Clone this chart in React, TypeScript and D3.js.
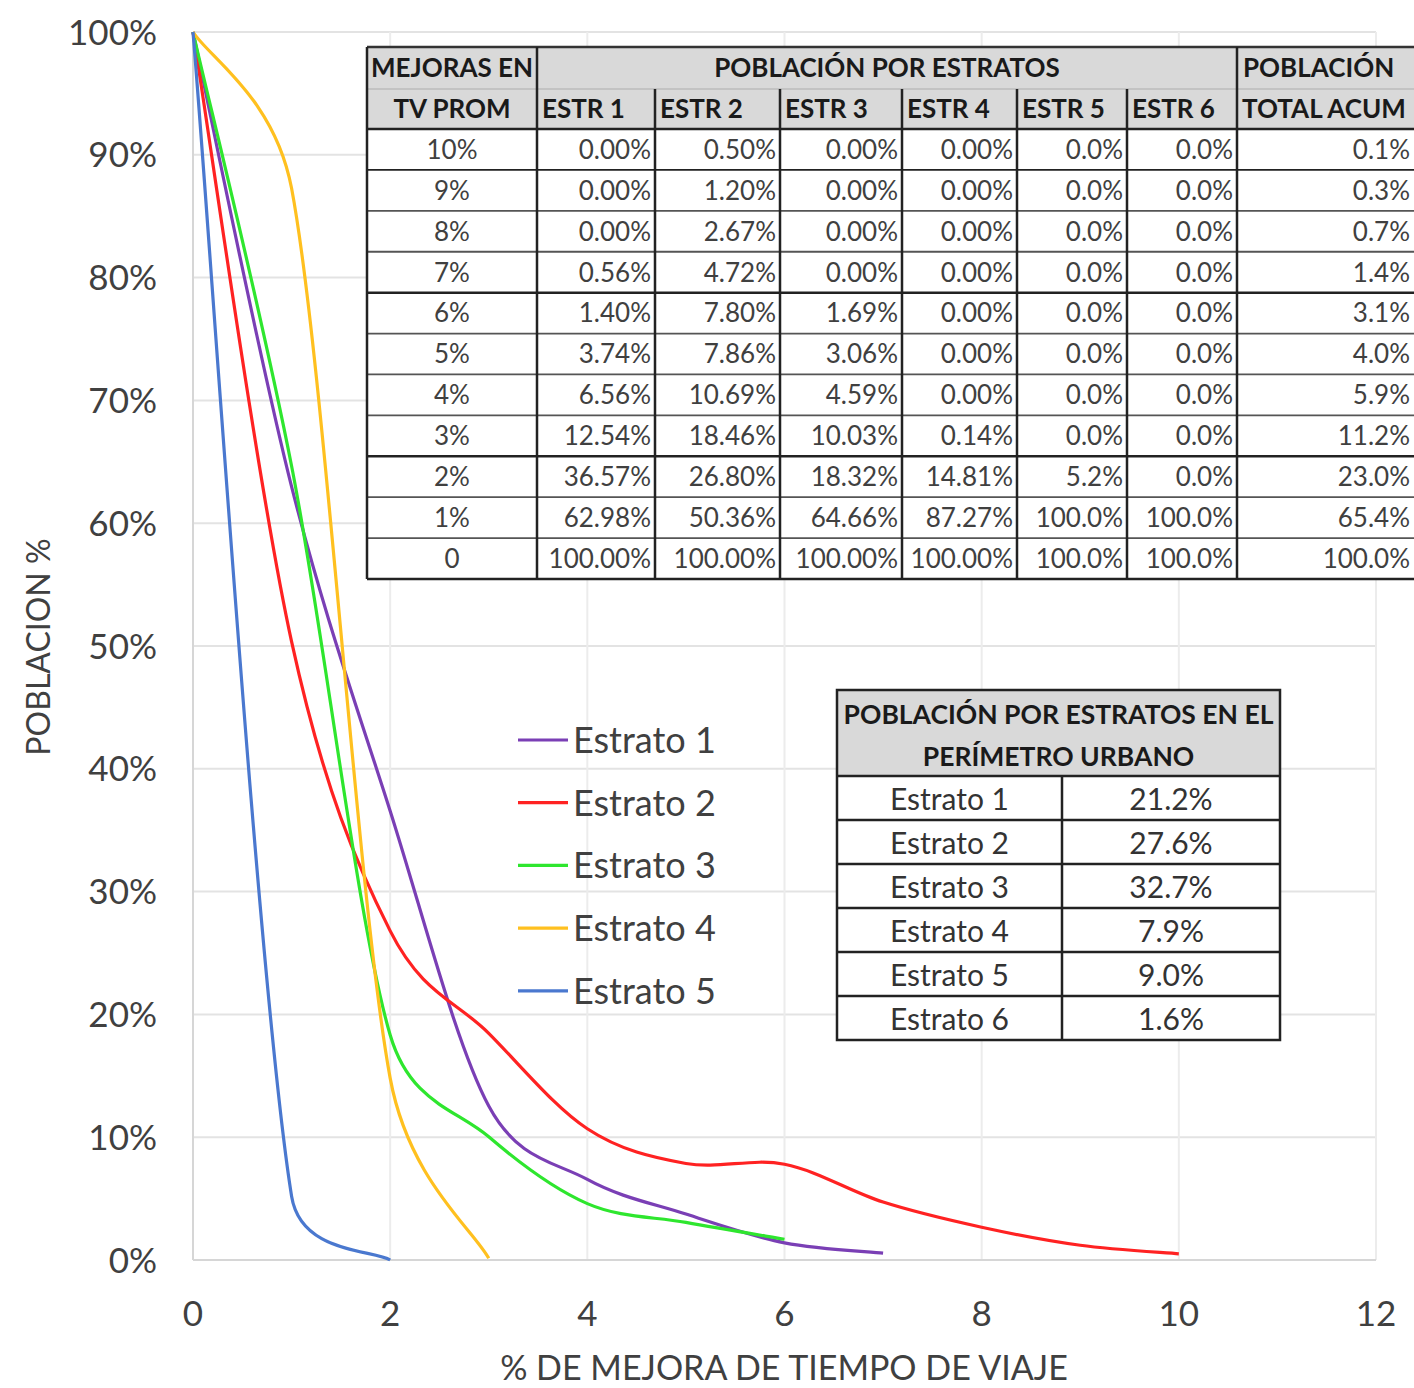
import React from "react";
import * as d3 from "d3";

const W = 1414;
const H = 1388;
const FONT = "Lato, 'Open Sans', sans-serif";

// ---- line series (x = 0,1,2,... % de mejora) ----
const seriesNames = ["Estrato 1", "Estrato 2", "Estrato 3", "Estrato 4", "Estrato 5"];
const seriesColors = ["#7a3fb5", "#ff2222", "#2ee62e", "#ffc01f", "#4a78cf"];
const estrato1 = [1, 0.6298, 0.3657, 0.1254, 0.0656, 0.0374, 0.014, 0.0056];
const estrato2 = [1, 0.5036, 0.268, 0.1846, 0.1069, 0.0786, 0.078, 0.0472, 0.0267, 0.012, 0.005];
const estrato3 = [1, 0.6466, 0.1832, 0.1003, 0.0459, 0.0306, 0.0169];
const estrato4 = [1, 0.8727, 0.1481, 0.0014];
const estrato5 = [1, 0.052, 0];
const seriesValues = [estrato1, estrato2, estrato3, estrato4, estrato5];

const xTicks = [0, 2, 4, 6, 8, 10, 12];
const yTicks = [0, 0.1, 0.2, 0.3, 0.4, 0.5, 0.6, 0.7, 0.8, 0.9, 1];

// ---- table 1 ----
const tvProm = ["10%", "9%", "8%", "7%", "6%", "5%", "4%", "3%", "2%", "1%", "0"];
const estr1Col = ["0.00%", "0.00%", "0.00%", "0.56%", "1.40%", "3.74%", "6.56%", "12.54%", "36.57%", "62.98%", "100.00%"];
const estr2Col = ["0.50%", "1.20%", "2.67%", "4.72%", "7.80%", "7.86%", "10.69%", "18.46%", "26.80%", "50.36%", "100.00%"];
const estr3Col = ["0.00%", "0.00%", "0.00%", "0.00%", "1.69%", "3.06%", "4.59%", "10.03%", "18.32%", "64.66%", "100.00%"];
const estr4Col = ["0.00%", "0.00%", "0.00%", "0.00%", "0.00%", "0.00%", "0.00%", "0.14%", "14.81%", "87.27%", "100.00%"];
const estr5Col = ["0.0%", "0.0%", "0.0%", "0.0%", "0.0%", "0.0%", "0.0%", "0.0%", "5.2%", "100.0%", "100.0%"];
const estr6Col = ["0.0%", "0.0%", "0.0%", "0.0%", "0.0%", "0.0%", "0.0%", "0.0%", "0.0%", "100.0%", "100.0%"];
const totalCol = ["0.1%", "0.3%", "0.7%", "1.4%", "3.1%", "4.0%", "5.9%", "11.2%", "23.0%", "65.4%", "100.0%"];
const subHeaders = ["TV PROM", "ESTR 1", "ESTR 2", "ESTR 3", "ESTR 4", "ESTR 5", "ESTR 6", "TOTAL ACUM"];

// ---- table 2 ----
const estratoLabels = ["Estrato 1", "Estrato 2", "Estrato 3", "Estrato 4", "Estrato 5", "Estrato 6"];
const estratoShares = ["21.2%", "27.6%", "32.7%", "7.9%", "9.0%", "1.6%"];

// Excel-like smoothed line: Bezier with 1/6 tangents, arm clamped to half of segment length
function smoothPath(pts: [number, number][]): string {
  const p = d3.path();
  const n = pts.length;
  if (!n) return "";
  p.moveTo(pts[0][0], pts[0][1]);
  const dist = (a: [number, number], b: [number, number]) => Math.hypot(b[0] - a[0], b[1] - a[1]);
  for (let i = 0; i < n - 1; i++) {
    const p0 = pts[Math.max(0, i - 1)];
    const p1 = pts[i];
    const p2 = pts[i + 1];
    const p3 = pts[Math.min(n - 1, i + 2)];
    const d12 = dist(p1, p2);
    let t1x = (p2[0] - p0[0]) / 6;
    let t1y = (p2[1] - p0[1]) / 6;
    let l1 = Math.hypot(t1x, t1y);
    if (l1 > d12 / 2 && l1 > 0) {
      const s = d12 / 2 / l1;
      t1x *= s;
      t1y *= s;
    }
    let t2x = (p3[0] - p1[0]) / 6;
    let t2y = (p3[1] - p1[1]) / 6;
    let l2 = Math.hypot(t2x, t2y);
    if (l2 > d12 / 2 && l2 > 0) {
      const s = d12 / 2 / l2;
      t2x *= s;
      t2y *= s;
    }
    p.bezierCurveTo(p1[0] + t1x, p1[1] + t1y, p2[0] - t2x, p2[1] - t2y, p2[0], p2[1]);
  }
  return p.toString();
}

export default function App() {
  const x = d3.scaleLinear().domain([0, 12]).range([193, 1376]);
  const y = d3.scaleLinear().domain([0, 1]).range([1260, 32]);

  // table 1 geometry
  const colX = [367, 537, 655, 780, 902, 1017, 1127, 1237, 1440];
  const t1Top = 47;
  const t1H1 = 89;
  const t1H2 = 129;
  const t1Bottom = 579;
  const rowH = (t1Bottom - t1H2) / tvProm.length;
  const dataCols = [estr1Col, estr2Col, estr3Col, estr4Col, estr5Col, estr6Col, totalCol];
  const thickRows = [0, 4, 8];

  // table 2 geometry
  const t2L = 837, t2R = 1280, t2Top = 690, t2HB = 776, t2Bottom = 1040, t2Mid = 1062;
  const r2H = (t2Bottom - t2HB) / estratoLabels.length;

  const txtSize = 26;

  return (
    <div style={{ position: "absolute", left: 0, top: 0 }}>
      <svg width={W} height={H} style={{ display: "block", background: "#fff" }}>
        {/* gridlines */}
        {yTicks.map((t) => (
          <line key={"gy" + t} x1={x(0)} x2={x(12)} y1={y(t)} y2={y(t)} stroke="#e3e3e3" strokeWidth={2} />
        ))}
        {xTicks.map((t) => (
          <line key={"gx" + t} x1={x(t)} x2={x(t)} y1={y(0)} y2={y(1)} stroke="#ececec" strokeWidth={2} />
        ))}
        <line x1={x(0)} x2={x(0)} y1={y(0)} y2={y(1)} stroke="#d6d6d6" strokeWidth={2} />
        <line x1={x(0)} x2={x(12)} y1={y(0)} y2={y(0)} stroke="#d6d6d6" strokeWidth={2} />

        {/* y tick labels */}
        {yTicks.map((t) => (
          <text key={"ly" + t} x={157} y={y(t)} dy="0.36em" textAnchor="end" fontFamily={FONT} fontSize={35} fill="#404040">
            {d3.format(".0%")(t)}
          </text>
        ))}
        {/* x tick labels */}
        {xTicks.map((t) => (
          <text key={"lx" + t} x={x(t)} y={1326} textAnchor="middle" fontFamily={FONT} fontSize={35} fill="#404040">
            {t}
          </text>
        ))}
        <text x={784} y={1380} textAnchor="middle" fontFamily={FONT} fontSize={34} fill="#404040">
          % DE MEJORA DE TIEMPO DE VIAJE
        </text>
        <text transform="translate(50,647) rotate(-90)" textAnchor="middle" fontFamily={FONT} fontSize={32} fill="#404040">
          POBLACION %
        </text>

        {/* lines */}
        {seriesValues.map((vals, i) => (
          <path
            key={"s" + i}
            d={smoothPath(vals.map((v, k) => [x(k), y(v)] as [number, number]))}
            fill="none"
            stroke={seriesColors[i]}
            strokeWidth={3.2}
            strokeLinejoin="round"
          />
        ))}

        {/* legend */}
        {seriesNames.map((n, i) => {
          const ly = 740 + i * 62.7;
          return (
            <g key={"lg" + i}>
              <line x1={518} x2={568} y1={ly} y2={ly} stroke={seriesColors[i]} strokeWidth={3.2} />
              <text x={573} y={ly} dy="0.36em" fontFamily={FONT} fontSize={36} fill="#404040">
                {n}
              </text>
            </g>
          );
        })}

        {/* table 1 */}
        <g fontFamily={FONT}>
          <rect x={colX[0]} y={t1Top} width={colX[8] - colX[0]} height={t1H2 - t1Top} fill="#d9d9d9" />
          <rect x={colX[0]} y={t1H2} width={colX[8] - colX[0]} height={t1Bottom - t1H2} fill="#fff" />
          {/* header texts */}
          <text x={colX[0] + 4} y={(t1Top + t1H1) / 2} dy="0.36em" fontSize={txtSize} fontWeight="bold" fill="#1a1a1a">
            MEJORAS EN
          </text>
          <text x={(colX[1] + colX[7]) / 2} y={(t1Top + t1H1) / 2} dy="0.36em" textAnchor="middle" fontSize={txtSize} fontWeight="bold" fill="#1a1a1a">
            POBLACIÓN POR ESTRATOS
          </text>
          <text x={colX[7] + 6} y={(t1Top + t1H1) / 2} dy="0.36em" fontSize={txtSize} fontWeight="bold" fill="#1a1a1a">
            POBLACIÓN
          </text>
          {subHeaders.map((h, i) => (
            <text
              key={"sh" + i}
              x={i === 0 ? (colX[0] + colX[1]) / 2 : colX[i] + 5}
              y={(t1H1 + t1H2) / 2}
              dy="0.36em"
              textAnchor={i === 0 ? "middle" : "start"}
              fontSize={txtSize}
              fontWeight="bold"
              fill="#1a1a1a"
            >
              {h}
            </text>
          ))}
          {/* data */}
          {tvProm.map((r, ri) => {
            const cy = t1H2 + rowH * (ri + 0.5);
            return (
              <g key={"r" + ri}>
                <text x={(colX[0] + colX[1]) / 2} y={cy} dy="0.36em" textAnchor="middle" fontSize={txtSize} fill="#404040">
                  {r}
                </text>
                {dataCols.map((col, ci) => (
                  <text
                    key={"c" + ci}
                    x={ci === 6 ? 1410 : colX[ci + 2] - 4}
                    y={cy}
                    dy="0.36em"
                    textAnchor="end"
                    fontSize={txtSize}
                    fill="#404040"
                  >
                    {col[ri]}
                  </text>
                ))}
              </g>
            );
          })}
          {/* horizontal borders */}
          <line x1={colX[0]} x2={colX[8]} y1={t1Top} y2={t1Top} stroke="#333" strokeWidth={2.5} />
          <line x1={colX[1]} x2={colX[7]} y1={t1H1} y2={t1H1} stroke="#bbb" strokeWidth={1.5} />
          <line x1={colX[0]} x2={colX[1]} y1={t1H1} y2={t1H1} stroke="#bbb" strokeWidth={1.5} />
          <line x1={colX[7]} x2={colX[8]} y1={t1H1} y2={t1H1} stroke="#bbb" strokeWidth={1.5} />
          {tvProm.map((_, ri) => {
            const yy = t1H2 + rowH * ri;
            return (
              <line
                key={"hb" + ri}
                x1={colX[0]}
                x2={colX[8]}
                y1={yy}
                y2={yy}
                stroke={thickRows.includes(ri) || ri === 1 ? "#222" : "#555"}
                strokeWidth={thickRows.includes(ri) ? 2.5 : 1.8}
              />
            );
          })}
          <line x1={colX[0]} x2={colX[8]} y1={t1Bottom} y2={t1Bottom} stroke="#222" strokeWidth={2.5} />
          {/* vertical borders */}
          {colX.slice(0, 8).map((cx, i) => (
            <line
              key={"vb" + i}
              x1={cx}
              x2={cx}
              y1={i === 0 || i === 1 || i === 7 ? t1Top : t1H1}
              y2={t1Bottom}
              stroke="#222"
              strokeWidth={2.5}
            />
          ))}
        </g>

        {/* table 2 */}
        <g fontFamily={FONT}>
          <rect x={t2L} y={t2Top} width={t2R - t2L} height={t2HB - t2Top} fill="#d9d9d9" />
          <rect x={t2L} y={t2HB} width={t2R - t2L} height={t2Bottom - t2HB} fill="#fff" />
          <text x={(t2L + t2R) / 2} y={714} dy="0.36em" textAnchor="middle" fontSize={26.5} fontWeight="bold" fill="#1a1a1a">
            POBLACIÓN POR ESTRATOS EN EL
          </text>
          <text x={(t2L + t2R) / 2} y={756} dy="0.36em" textAnchor="middle" fontSize={26.5} fontWeight="bold" fill="#1a1a1a">
            PERÍMETRO URBANO
          </text>
          {estratoLabels.map((l, i) => {
            const cy = t2HB + r2H * (i + 0.5);
            return (
              <g key={"t2" + i}>
                <text x={(t2L + t2Mid) / 2} y={cy + 1} dy="0.36em" textAnchor="middle" fontSize={30} fill="#333">
                  {l}
                </text>
                <text x={(t2Mid + t2R) / 2} y={cy + 1} dy="0.36em" textAnchor="middle" fontSize={30} fill="#333">
                  {estratoShares[i]}
                </text>
                <line x1={t2L} x2={t2R} y1={t2HB + r2H * i} y2={t2HB + r2H * i} stroke="#222" strokeWidth={2.5} />
              </g>
            );
          })}
          <rect x={t2L} y={t2Top} width={t2R - t2L} height={t2Bottom - t2Top} fill="none" stroke="#222" strokeWidth={2.5} />
          <line x1={t2Mid} x2={t2Mid} y1={t2HB} y2={t2Bottom} stroke="#222" strokeWidth={2.5} />
        </g>
      </svg>
    </div>
  );
}
